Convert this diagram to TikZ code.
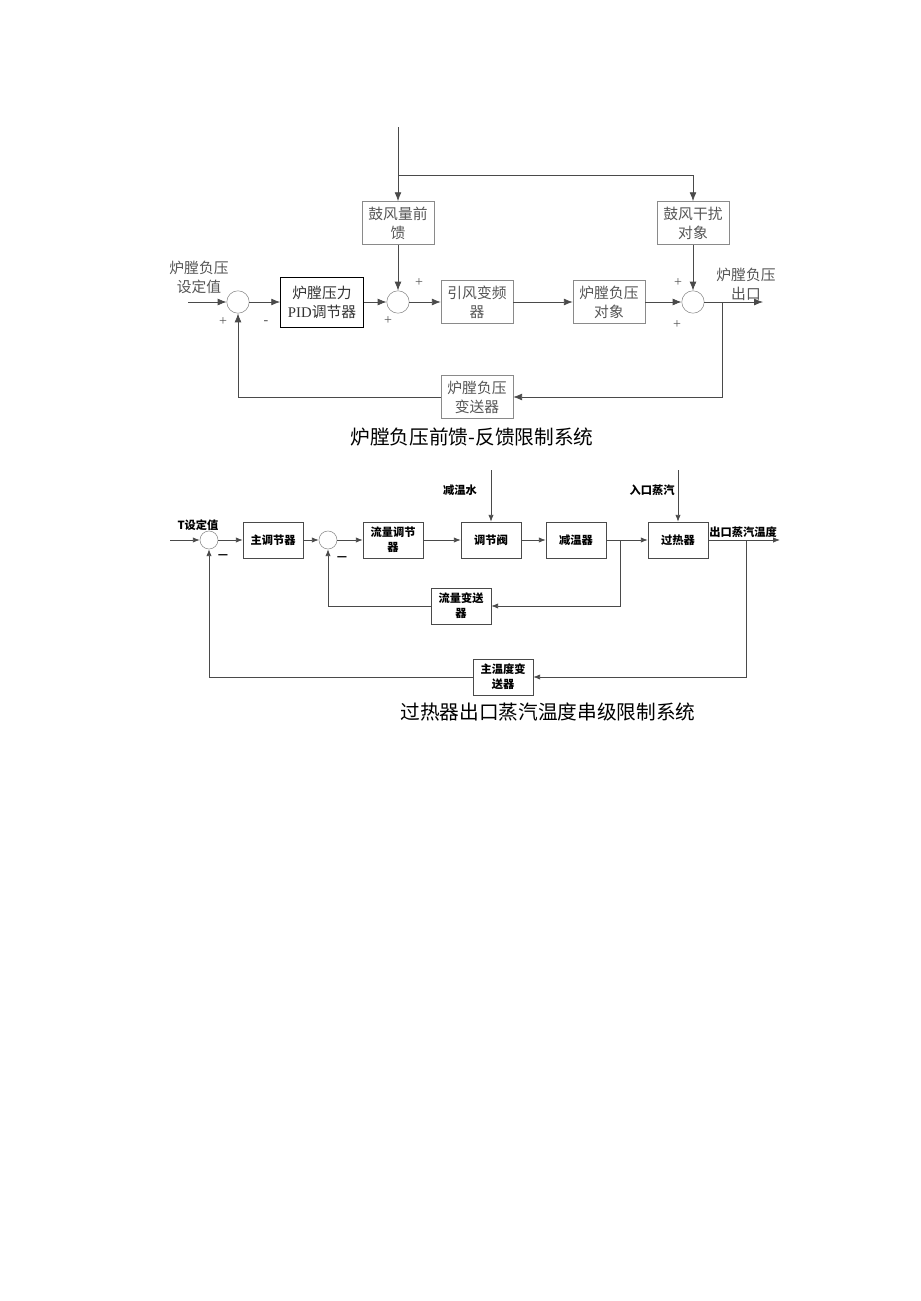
\documentclass[tikz,border=0pt]{standalone}
\usepackage{fontspec}
\setmainfont{Liberation Serif}
\newfontfamily\cjk{Noto Sans CJK SC}
\usetikzlibrary{arrows.meta,positioning}

\definecolor{linegray}{HTML}{4A4A4A}
\definecolor{boxgray}{HTML}{8A8A8A}
\definecolor{txtgray}{HTML}{555555}

\tikzset{
    fl/.style={draw=linegray,line width=0.5pt,-{Latex[length=2.2mm,width=1.7mm]}},
    ln/.style={draw=linegray,line width=0.5pt},
    blka/.style={draw=boxgray,text=txtgray,align=center,inner sep=0pt,
        minimum width=1.8cm,minimum height=1.08cm,
        font=\cjk\fontsize{10.5}{13.5}\selectfont},
    suma/.style={draw=boxgray,circle,minimum size=0.56cm,inner sep=0pt},
    lbla/.style={text=txtgray,align=center,font=\cjk\fontsize{10.5}{13.5}\selectfont},
    sgn/.style={text=txtgray,font=\fontsize{10}{11}\selectfont},
    flb/.style={draw=linegray,line width=0.5pt,-{Latex[length=1.7mm,width=1.3mm]}},
    blkb/.style={draw=linegray,text=black,align=center,inner sep=0pt,
        minimum width=1.5cm,minimum height=0.9cm,
        font=\cjk\bfseries\fontsize{8}{10.5}\selectfont},
    sumb/.style={draw=boxgray,circle,minimum size=0.45cm,inner sep=0pt},
    lblb/.style={text=black,align=center,font=\cjk\bfseries\fontsize{8}{10}\selectfont},
    capt/.style={text=black,font=\cjk\fontsize{14}{16}\selectfont},
}

\begin{document}
\begin{tikzpicture}[x=0.025cm,y=-0.025cm]
    \useasboundingbox (0,0) rectangle (920,1301);

    % upper loop
    \begin{scope}
        \node[suma] (c1) at (238,302) {};
        \node[blka,draw=black,text=black!80,minimum width=2.08cm,minimum height=1.25cm] (pid) at (322,302) {炉膛压力\\{\rmfamily PID}调节器};
        \node[suma] (c2) at (398,302) {};
        \node[blka] (fan) at (477,302) {引风变频\\器};
        \node[blka] (obj) at (609,302) {炉膛负压\\对象};
        \node[suma] (c3) at (693,302) {};
        \node[blka] (ff) at (398,223) {鼓风量前\\馈};
        \node[blka] (dist) at (693,223) {鼓风干扰\\对象};
        \node[blka] (tr) at (477,397) {炉膛负压\\变送器};

        \coordinate (src) at (398,127);
        \coordinate (j1) at (398,175);
        \coordinate (in1) at (188,302);
        \coordinate (out1) at (763,302);
        \coordinate (b1) at (722,302);

        \node[lbla] (setp) at (199,277) {炉膛负压\\设定值};
        \node[lbla] (outl) at (746,284) {炉膛负压\\出口};

        \draw[fl] (in1) -- (c1);
        \draw[fl] (c1) -- (pid);
        \draw[fl] (pid) -- (c2);
        \draw[fl] (c2) -- (fan);
        \draw[fl] (fan) -- (obj);
        \draw[fl] (obj) -- (c3);
        \draw[fl] (c3) -- (out1);
        \draw[fl] (src) -- (ff);
        \draw[fl] (j1) -| (dist);
        \draw[fl] (ff) -- (c2);
        \draw[fl] (dist) -- (c3);
        \draw[fl] (b1) |- (tr);
        \draw[fl] (tr) -| (c1);

        \node[sgn] at (223,322) {+};
        \node[sgn] at (266,323) {-};
        \node[sgn] at (419,283) {+};
        \node[sgn] at (388,321) {+};
        \node[sgn] at (678,283) {+};
        \node[sgn] at (677,325) {+};

        \node[capt] (cap1) at (472,437) {炉膛负压前馈-反馈限制系统};
    \end{scope}

    % lower loop
    \begin{scope}
        \node[sumb] (s1) at (209,540) {};
        \node[blkb] (mc) at (273,540) {主调节器};
        \node[sumb] (s2) at (328,540) {};
        \node[blkb] (fc) at (393,540) {流量调节\\器};
        \node[blkb] (vlv) at (491,540) {调节阀};
        \node[blkb] (ds) at (576,540) {减温器};
        \node[blkb] (sh) at (678,540) {过热器};
        \node[blkb] (ft) at (461,606) {流量变送\\器};
        \node[blkb] (tt) at (503,677) {主温度变\\送器};

        \coordinate (in2) at (170,540);
        \coordinate (out2) at (780,540);
        \coordinate (b2) at (620,540);
        \coordinate (b3) at (746,540);
        \coordinate (wsrc) at (491,470);
        \coordinate (ssrc) at (678,470);

        \node[lblb] (tset) at (198,525) {T设定值};
        \node[lblb] (water) at (460,490) {减温水};
        \node[lblb] (steam) at (652,490) {入口蒸汽};
        \node[lblb] (outt) at (743,532) {出口蒸汽温度};

        \draw[flb] (in2) -- (s1);
        \draw[flb] (s1) -- (mc);
        \draw[flb] (mc) -- (s2);
        \draw[flb] (s2) -- (fc);
        \draw[flb] (fc) -- (vlv);
        \draw[flb] (vlv) -- (ds);
        \draw[flb] (ds) -- (sh);
        \draw[flb] (sh) -- (out2);
        \draw[flb] (wsrc) -- (vlv);
        \draw[flb] (ssrc) -- (sh);
        \draw[flb] (b2) |- (ft);
        \draw[flb] (ft) -| (s2);
        \draw[flb] (b3) |- (tt);
        \draw[flb] (tt) -| (s1);

        \node[lblb] at (223,557) {—};
        \node[lblb] at (342,559) {—};

        \node[capt] (cap2) at (548,712) {过热器出口蒸汽温度串级限制系统};
    \end{scope}
\end{tikzpicture}
\end{document}
